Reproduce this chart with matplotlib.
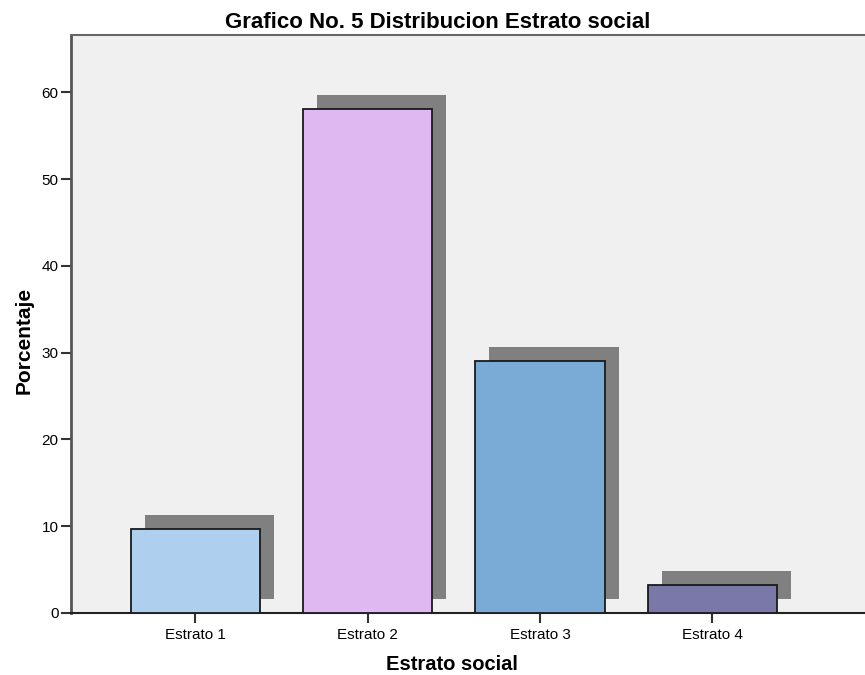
import matplotlib
matplotlib.use("Agg")
import matplotlib.pyplot as plt
import matplotlib.transforms as mtransforms
import numpy as np

# datos del grafico
estratos = ["Estrato 1", "Estrato 2", "Estrato 3", "Estrato 4"]
porcentaje = [9.7, 58.1, 29.0, 3.2]
colores = ["#aed0ee", "#dfb8f2", "#7aaad6", "#7a78a8"]
ticks_y = [0, 10, 20, 30, 40, 50, 60]

plt.rcParams['font.family'] = ['Liberation Sans', 'DejaVu Sans']

fig = plt.figure(figsize=(8.65, 6.75), dpi=100)
ax = fig.add_axes([71 / 865, 62 / 675, 1 - 71 / 865, 578 / 675])
ax.set_facecolor("#f0f0f0")

x = np.arange(len(estratos))
ancho = 0.75

# sombra desplazada arriba y a la derecha
sombra = ax.transData + mtransforms.ScaledTranslation(0.14, 0.14, fig.dpi_scale_trans)
ax.bar(x, porcentaje, width=ancho, color="#808080", transform=sombra, zorder=2)
ax.bar(x, porcentaje, width=ancho, color=colores, edgecolor="#1a1a1a",
       linewidth=1.3, zorder=3)

ax.set_xlim(-0.722, 3.886)
ax.set_ylim(0, 66.6)
ax.set_xticks(x)
ax.set_xticklabels(estratos, fontsize=11)
ax.set_yticks(ticks_y)
ax.tick_params(axis="y", labelsize=11, length=7, width=1.5, color="#333333", pad=2)
ax.tick_params(axis="x", length=7, width=1.5, color="#333333", pad=4)

ax.spines["right"].set_visible(False)
ax.spines["left"].set_color("#555555")
ax.spines["left"].set_linewidth(2)
ax.spines["top"].set_color("#666666")
ax.spines["top"].set_linewidth(1.5)
ax.spines["bottom"].set_color("#222222")
ax.spines["bottom"].set_linewidth(1.5)

ax.set_title("Grafico No. 5 Distribucion Estrato social", fontsize=16,
             fontweight="bold", x=(438 - 71) / 794, pad=5)
ax.set_xlabel("Estrato social", fontsize=14.5, fontweight="bold")
ax.xaxis.set_label_coords((452 - 71) / 794, -0.072)
ax.set_ylabel("Porcentaje", fontsize=15, fontweight="bold")
ax.yaxis.set_label_coords(-(71 - 34) / 794, (613 - 340) / 578)

fig.savefig("out.png", dpi=100)
